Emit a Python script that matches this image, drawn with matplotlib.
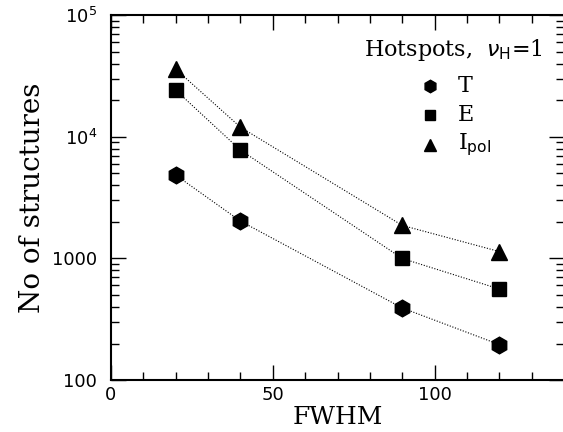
import math
import matplotlib.pyplot as plt
from matplotlib.ticker import LogLocator, FixedLocator, MultipleLocator, FuncFormatter

fwhm = [20, 40, 90, 120]
n_T = [4850, 2030, 392, 196]
n_E = [24200, 7780, 1000, 561]
n_Ipol = [36000, 12000, 1870, 1140]

labels = ["T", "E", r"I$_{\rm pol}$"]
markers = ["h", "s", "^"]
sizes = [12, 10, 11]

fig = plt.figure(figsize=(5.63, 4.32), dpi=100)
ax = fig.add_axes([0.197, 0.120, 0.805, 0.845])

for ys, m, s in zip([n_T, n_E, n_Ipol], markers, sizes):
    ax.plot(fwhm, ys, color="black", lw=0.8, ls=(0, (1, 1.5)))
    ax.plot(fwhm, ys, ls="none", marker=m, ms=s, color="black")

ax.set_yscale("log")
ax.set_xlim(0, 140)
ax.set_ylim(100, 1e5)

ax.xaxis.set_major_locator(MultipleLocator(50))
ax.xaxis.set_minor_locator(MultipleLocator(10))
ax.yaxis.set_major_locator(FixedLocator([100, 1000, 1e4, 1e5]))
ax.yaxis.set_minor_locator(LogLocator(base=10, subs=range(2, 10)))

def yfmt(v, pos):
    if v < 5000:
        return "%d" % round(v)
    return r"10$^{%d}$" % round(math.log10(v))

ax.yaxis.set_major_formatter(FuncFormatter(yfmt))
ax.yaxis.set_minor_formatter(FuncFormatter(lambda v, p: ""))

ax.tick_params(which="both", direction="in", top=True, right=True, labelsize=13, width=1.0)
ax.tick_params(which="major", length=11)
ax.tick_params(which="minor", length=6)
ax.tick_params(axis="x", which="major", pad=4)
ax.tick_params(axis="y", which="major", pad=10)
for lab in ax.get_xticklabels() + ax.get_yticklabels():
    lab.set_family("DejaVu Sans")
for sp in ax.spines.values():
    sp.set_linewidth(1.5)

ax.set_xlabel("FWHM", family="DejaVu Serif", fontsize=18, labelpad=2)
ax.set_ylabel("No of structures", family="DejaVu Serif", fontsize=20, labelpad=4)

ax.text(0.952, 0.905, r"Hotspots,  $\nu_{\rm H}$=1", transform=ax.transAxes,
        ha="right", va="center", family="DejaVu Serif", fontsize=16)
for i, (lab, m, s) in enumerate(zip(labels, markers, sizes)):
    yy = 0.807 - i * 0.081
    ax.plot([0.703], [yy], transform=ax.transAxes, marker=m, ms=s * 0.75, color="black", ls="none")
    ax.text(0.766, yy, lab, transform=ax.transAxes, ha="left", va="center",
            family="DejaVu Serif", fontsize=16)

fig.savefig("out.png", dpi=100)
